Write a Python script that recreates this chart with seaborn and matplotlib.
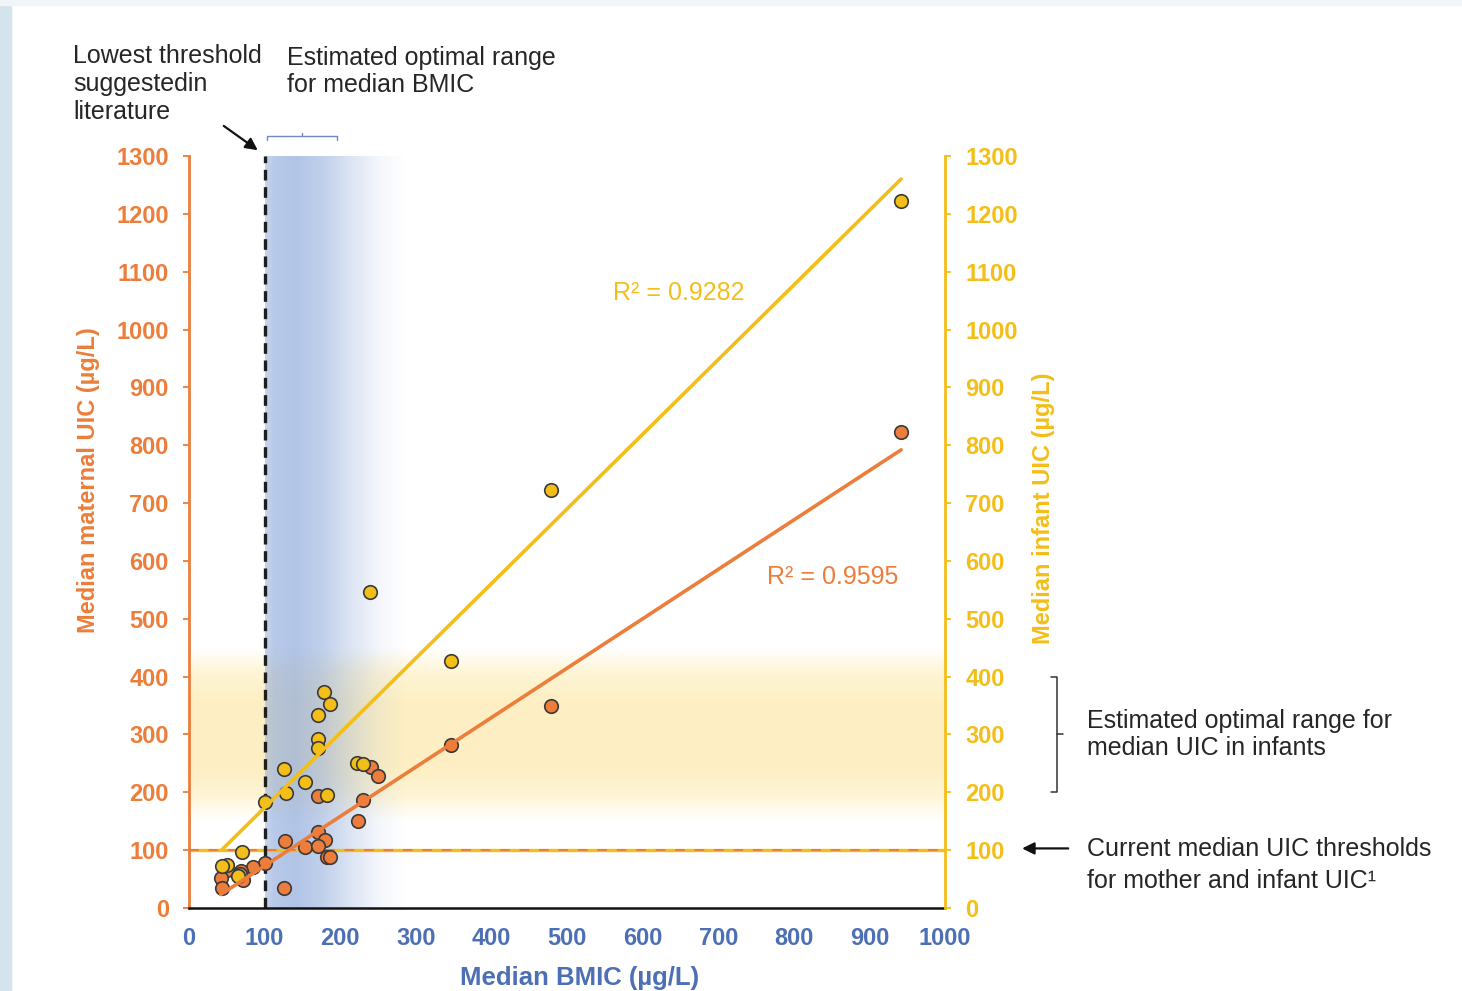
import numpy as np
import pandas as pd
import matplotlib.pyplot as plt
from matplotlib.patches import Rectangle
import seaborn as sns

# Данные (µg/L)
bmic_mother = [942, 479, 347, 241, 250, 230, 223, 170, 170, 127, 180, 154, 171, 182,
               186, 100, 84, 69, 72, 50, 42, 43, 125, 67]
uic_mother = [823, 349, 282, 244, 229, 186, 151, 194, 131, 115, 117, 106, 107, 88,
              89, 77, 71, 64, 48, 66, 51, 35, 35, 58]
bmic_infant = [942, 479, 347, 239, 179, 186, 170, 170, 171, 125, 154, 128, 182, 222,
               230, 100, 70, 65, 50, 43]
uic_infant = [1222, 723, 427, 546, 373, 352, 334, 292, 277, 240, 218, 198, 196, 250,
              249, 183, 96, 55, 74, 73]
r2_mother = 0.9595
r2_infant = 0.9282
x_ticks = list(range(0, 1100, 100))
y_ticks = list(range(0, 1400, 100))
lowest_bmic = 100
uic_threshold = 100
infant_range = (200, 400)

mother = pd.DataFrame({'bmic': bmic_mother, 'uic': uic_mother})
infant = pd.DataFrame({'bmic': bmic_infant, 'uic': uic_infant})

ORANGE = '#EC7D3A'
YELLOW = '#F3BE17'
BLUE = '#4C6FB5'
TXT = '#262626'

sns.set_style('white')
plt.rcParams['font.family'] = ['Liberation Sans', 'DejaVu Sans']

fig = plt.figure(figsize=(14.62, 9.91), dpi=100, facecolor='white')
# светлая рамка слайда
fig.add_artist(Rectangle((0, 0), 11 / 1462, 1, transform=fig.transFigure, color='#D3E4EC', zorder=0))
fig.add_artist(Rectangle((0, 1 - 5 / 991), 1, 5 / 991, transform=fig.transFigure, color='#F1F5F8', zorder=0))

ax = fig.add_axes([189 / 1462, 1 - 908 / 991, 756 / 1462, 752 / 991])
ax.set_xlim(0, 1000)
ax.set_ylim(0, 1300)

# жёлтая полоса: оптимальный диапазон UIC у младенцев
ys = np.linspace(150, 450, 300)
a_y = np.interp(ys, [150, 195, 240, 360, 405, 450], [0, 0.3, 0.42, 0.42, 0.3, 0])
yband = np.zeros((len(ys), 2, 4))
yband[..., :3] = (0.99, 0.86, 0.45)
yband[..., 3] = a_y[:, None]
ax.imshow(yband, extent=[0, 1000, 150, 450], origin='lower', aspect='auto', zorder=0.5)

# синяя полоса: оптимальный диапазон BMIC
xs = np.linspace(lowest_bmic, 285, 300)
a_x = np.interp(xs, [100, 112, 140, 175, 215, 250, 285], [0.5, 0.62, 0.68, 0.55, 0.3, 0.1, 0])
xband = np.zeros((2, len(xs), 4))
xband[..., :3] = (0.55, 0.66, 0.86)
xband[..., 3] = a_x[None, :]
ax.imshow(xband, extent=[lowest_bmic, 285, 0, 1300], origin='lower', aspect='auto', zorder=0.6)

# пороги
ax.axhline(uic_threshold, color=YELLOW, lw=2.4, zorder=1)
ax.axhline(uic_threshold, color=ORANGE, lw=1.4, ls=(0, (5, 5)), zorder=1.1)
ax.axvline(lowest_bmic, color='#1E1E1E', lw=2.4, ls=(0, (3.2, 2)), zorder=1.2)

# точки и линии тренда
sns.scatterplot(data=mother, x='bmic', y='uic', color=ORANGE, s=95, edgecolor='#3A3A3A',
                linewidth=1.2, ax=ax, zorder=3)
sns.scatterplot(data=infant, x='bmic', y='uic', color=YELLOW, s=95, edgecolor='#3A3A3A',
                linewidth=1.2, ax=ax, zorder=3)
sns.regplot(data=mother, x='bmic', y='uic', scatter=False, ci=None, truncate=True,
            color=ORANGE, line_kws={'lw': 2.6, 'zorder': 4}, ax=ax)
sns.regplot(data=infant, x='bmic', y='uic', scatter=False, ci=None, truncate=True,
            color=YELLOW, line_kws={'lw': 2.6, 'zorder': 4}, ax=ax)

ax.text(561, 1063, f'R² = {r2_infant}', color=YELLOW, fontsize=18, va='center', ha='left')
ax.text(765, 572, f'R² = {r2_mother}', color=ORANGE, fontsize=18, va='center', ha='left')

# оси
ax.set_xticks(x_ticks)
ax.set_yticks(y_ticks)
ax.tick_params(axis='x', direction='in', length=6, width=1.3, color='#111', pad=14,
               labelsize=17, labelcolor=BLUE)
ax.tick_params(axis='y', direction='out', length=4.5, width=1.3, color=ORANGE, pad=10,
               labelsize=17, labelcolor=ORANGE)
for lab in ax.get_xticklabels() + ax.get_yticklabels():
    lab.set_fontweight('bold')
for s in ['top', 'right']:
    ax.spines[s].set_visible(False)
ax.spines['left'].set_color(ORANGE)
ax.spines['left'].set_linewidth(2)
ax.spines['bottom'].set_color('#111')
ax.spines['bottom'].set_linewidth(1.8)
ax.set_xlabel('Median BMIC (µg/L)', color=BLUE, fontsize=18.5, fontweight='bold')
ax.xaxis.set_label_coords(0.516, -0.077)
ax.set_ylabel('Median maternal UIC (µg/L)', color=ORANGE, fontsize=17, fontweight='bold')
ax.yaxis.set_label_coords(-0.118, 0.569)

ax2 = ax.twinx()
ax2.set_ylim(0, 1300)
ax2.set_yticks(y_ticks)
ax2.tick_params(axis='y', direction='out', length=4.5, width=1.3, color=YELLOW, pad=10,
                labelsize=17, labelcolor=YELLOW)
for lab in ax2.get_yticklabels():
    lab.set_fontweight('bold')
for s in ['top', 'left', 'bottom']:
    ax2.spines[s].set_visible(False)
ax2.spines['right'].set_color(YELLOW)
ax2.spines['right'].set_linewidth(2)
ax2.set_ylabel('Median infant UIC (µg/L)', color=YELLOW, fontsize=17, fontweight='bold')
ax2.yaxis.set_label_coords(1.115, 0.532)

# подписи вне области графика
fig.text(73 / 1462, 1 - 44 / 991, 'Lowest threshold\nsuggestedin\nliterature', fontsize=18,
         color=TXT, va='top', ha='left', linespacing=1.22)
fig.text(287 / 1462, 1 - 46 / 991, 'Estimated optimal range\nfor median BMIC', fontsize=18,
         color=TXT, va='top', ha='left', linespacing=1.18)
ax.annotate('', xy=(91, 1310), xytext=(46, 1352), annotation_clip=False,
            arrowprops=dict(arrowstyle='-|>', color='#111', lw=1.6, mutation_scale=18,
                            shrinkA=0, shrinkB=0))
ax.plot([103, 103, 196, 196], [1328, 1334, 1334, 1328], color='#7088C4', lw=1, clip_on=False)
ax.plot([149, 149], [1334, 1340], color='#7088C4', lw=1, clip_on=False)

ax.plot([1140, 1148, 1148, 1140], [infant_range[1], infant_range[1], infant_range[0], infant_range[0]],
        color='#333', lw=1.1, clip_on=False)
ax.plot([1148, 1156], [sum(infant_range) / 2] * 2, color='#333', lw=1.1, clip_on=False)
ax.text(1188, 300, 'Estimated optimal range for\nmedian UIC in infants', fontsize=18,
        color=TXT, va='center', ha='left', linespacing=1.15)
ax.annotate('', xy=(1102, uic_threshold + 3), xytext=(1163, uic_threshold + 3), annotation_clip=False,
            arrowprops=dict(arrowstyle='-|>', color='#111', lw=1.6, mutation_scale=18,
                            shrinkA=0, shrinkB=0))
ax.text(1188, 74, 'Current median UIC thresholds\nfor mother and infant UIC¹', fontsize=18,
        color=TXT, va='center', ha='left', linespacing=1.4)

fig.savefig('out.png', dpi=100, facecolor=fig.get_facecolor())
